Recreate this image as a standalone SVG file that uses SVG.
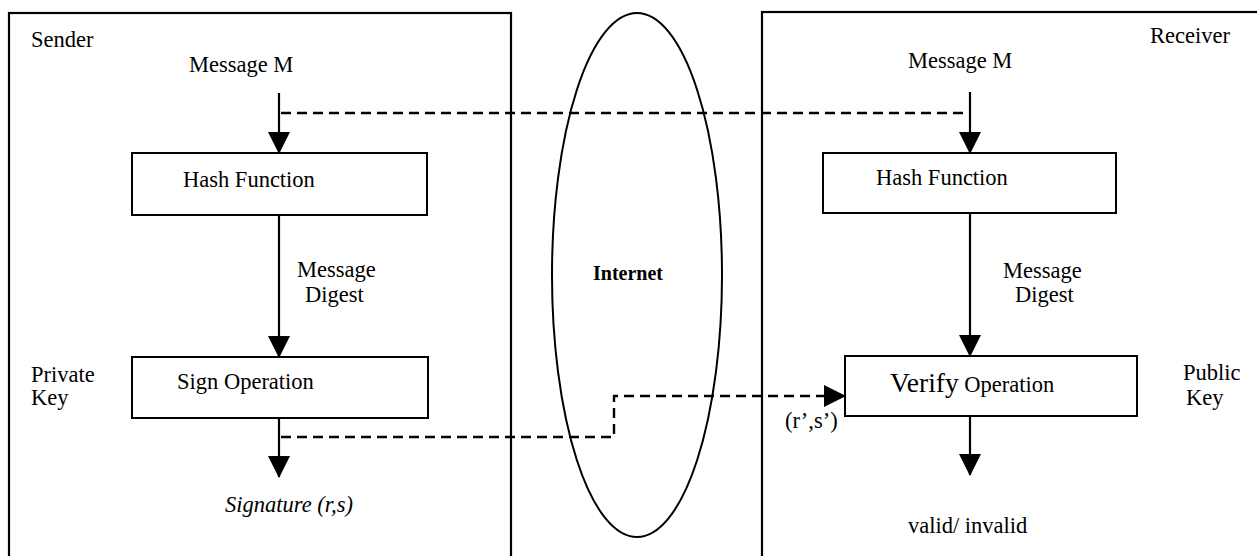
<svg xmlns="http://www.w3.org/2000/svg" width="1257" height="556" viewBox="0 0 1257 556">
<style>
.frame{fill:none;stroke:#000;stroke-width:2.2}
.box{fill:#fff;stroke:#000;stroke-width:2}
.line{fill:none;stroke:#000;stroke-width:2.2}
.dash{fill:none;stroke:#000;stroke-width:2.4;stroke-dasharray:10 6}
text{font-family:"Liberation Serif","Times New Roman",serif;font-size:22.5px;fill:#000}
.b{font-weight:bold;font-size:20px}
.i{font-style:italic}
</style>
<defs>
<marker id="ah" markerUnits="userSpaceOnUse" markerWidth="22" markerHeight="22" refX="21" refY="11" orient="auto" viewBox="0 0 22 22">
<path d="M0,0 L22,11 L0,22 Z" fill="#000"/>
</marker>
</defs>
<rect width="1257" height="556" fill="#fff"/>
<g id="sender">
<rect class="frame" x="9" y="13" width="502" height="560"/>
<text x="31" y="47">Sender</text>
<text x="189" y="72">Message M</text>
<text x="31" y="382">Private</text>
<text x="31" y="405">Key</text>
<text x="297" y="277">Message</text>
<text x="305" y="302">Digest</text>
<text class="i" x="225" y="512">Signature (r,s)</text>
</g>
<g id="internet">
<ellipse cx="637" cy="275" rx="85" ry="262" fill="none" stroke="#000" stroke-width="2"/>
<text class="b" x="593" y="280">Internet</text>
</g>
<g id="receiver">
<rect class="frame" x="762" y="12" width="600" height="560"/>
<text x="1150" y="43">Receiver</text>
<text x="908" y="68">Message M</text>
<text x="1003" y="278">Message</text>
<text x="1015" y="302">Digest</text>
<text x="1183" y="380">Public</text>
<text x="1186" y="405">Key</text>
<text x="908" y="533">valid/ invalid</text>
<text x="785" y="428">(r’,s’)</text>
</g>
<g id="hash-sender">
<rect class="box" x="132" y="153" width="295" height="62"/>
<text x="183" y="187">Hash Function</text>
</g>
<g id="sign">
<rect class="box" x="132" y="357" width="296" height="61"/>
<text x="177" y="389">Sign Operation</text>
</g>
<g id="hash-receiver">
<rect class="box" x="823" y="153" width="293" height="60"/>
<text x="876" y="185">Hash Function</text>
</g>
<g id="verify">
<rect class="box" x="845" y="356" width="292" height="60"/>
<text x="890" y="392"><tspan font-size="27.5px">Verify</tspan> Operation</text>
</g>
<g id="connectors">
<path class="line" d="M279,93 V153" marker-end="url(#ah)"/>
<path class="line" d="M279,215 V357" marker-end="url(#ah)"/>
<path class="line" d="M279,418 V477" marker-end="url(#ah)"/>
<path class="line" d="M970,92 V153" marker-end="url(#ah)"/>
<path class="line" d="M970,213 V356" marker-end="url(#ah)"/>
<path class="line" d="M970,416 V475" marker-end="url(#ah)"/>
<path class="dash" d="M281,113 H968"/>
<path class="dash" d="M281,437 H614 V396 H845" marker-end="url(#ah)"/>
</g>
</svg>
